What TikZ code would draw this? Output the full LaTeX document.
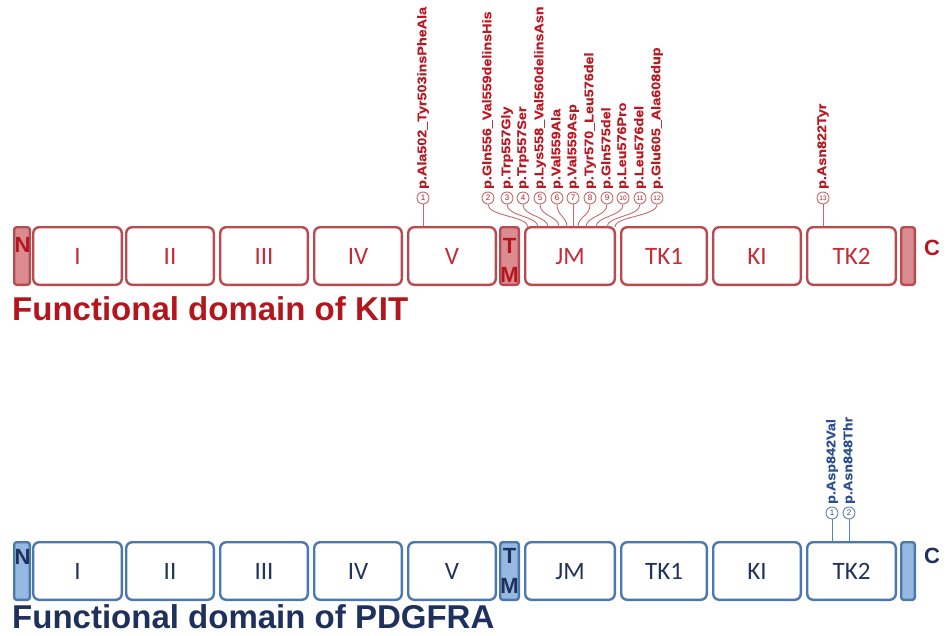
\documentclass[tikz,border=0pt]{standalone}
\usepackage{fontspec}
\setmainfont{Liberation Sans}
\newfontfamily\carl{Carlito}
\newfontfamily\labf{Liberation Sans}[UprightFont=*-Bold, FakeStretch=1.15, FakeBold=0.6]
\usetikzlibrary{calc}
\definecolor{kitStroke}{RGB}{185,75,80}
\definecolor{kitFill}{RGB}{218,140,145}
\definecolor{kitText}{RGB}{195,45,55}
\definecolor{kitHead}{RGB}{180,22,30}
\definecolor{kitLab}{RGB}{185,25,35}
\definecolor{kitCon}{RGB}{200,105,110}
\definecolor{pdStroke}{RGB}{75,120,175}
\definecolor{pdFill}{RGB}{150,185,225}
\definecolor{pdText}{RGB}{35,50,90}
\definecolor{pdHead}{RGB}{30,48,92}
\definecolor{pdLab}{RGB}{45,80,140}
\definecolor{pdCon}{RGB}{95,130,180}
\begin{document}
\begin{tikzpicture}[x=1pt,y=-1pt,
  dom/.style={draw, line width=2.4pt, rounded corners=6pt, fill=white, inner sep=0pt,
    minimum height=57.6pt, text depth=0pt, font=\carl\fontsize{25}{25}\selectfont},
  termbox/.style={draw, line width=2.4pt, rounded corners=2.5pt, inner sep=0pt, minimum height=57.6pt},
  kdom/.style={dom, draw=kitStroke, text=kitText},
  pdom/.style={dom, draw=pdStroke, text=pdText},
  kterm/.style={termbox, draw=kitStroke, fill=kitFill},
  pterm/.style={termbox, draw=pdStroke, fill=pdFill},
  letter/.style={inner sep=0pt, anchor=base, font=\bfseries\fontsize{22}{22}\selectfont},
  kletter/.style={letter, text=kitHead},
  pletter/.style={letter, text=pdHead},
  headline/.style={inner sep=0pt, anchor=base west, font=\bfseries\fontsize{33}{33}\selectfont},
  mcirc/.style={circle, line width=0.9pt, fill=white, minimum size=12pt, inner sep=0pt,
    font=\fontsize{8}{8}\selectfont},
  kcirc/.style={mcirc, draw=kitCon, text=kitLab},
  pcirc/.style={mcirc, draw=pdCon, text=pdLab},
  mlab/.style={inner sep=0pt, rotate=90, anchor=west, font=\labf\fontsize{12.5}{12.5}\selectfont},
  klab/.style={mlab, text=kitLab},
  plab/.style={mlab, text=pdLab},
  kcon/.style={draw=kitCon, line width=0.9pt},
  pcon/.style={draw=pdCon, line width=0.9pt}
]
\useasboundingbox (0,0) rectangle (947,635);

% ---------------- domain boxes ----------------
\foreach \n/\cx/\w/\t in {I/77.5/88.6pt/I, II/170/87.6pt/II, III/264/87.6pt/III, IV/358/87.6pt/IV,
  V/452/87.6pt/V, JM/570/89.6pt/JM, TKa/664/85.6pt/TK1, KI/757/87.6pt/KI, TKb/851.5/88.6pt/TK2}{
  \node[kdom, minimum width=\w] (k\n) at (\cx,256) {\t};
  \node[pdom, minimum width=\w] (p\n) at (\cx,571) {\t};
}
% terminal / TM boxes
\node[kterm, minimum width=15.6pt] (kN) at (22,256) {};
\node[kterm, minimum width=18.6pt] (kTM) at (509.5,256) {};
\node[kterm, minimum width=13.6pt] (kC) at (908,256) {};
\node[pterm, minimum width=15.6pt] (pN) at (22,571) {};
\node[pterm, minimum width=18.6pt] (pTM) at (509.5,571) {};
\node[pterm, minimum width=13.6pt] (pC) at (908,571) {};

% letters
\node[kletter] (kNl) at (22.5,252) {N};
\node[kletter] (kTl) at (509.5,253) {T};
\node[kletter] (kMl) at (509.5,282) {M};
\node[kletter] (kCl) at (932,255) {C};
\node[pletter] (pNl) at (22.5,564) {N};
\node[pletter] (pTl) at (509.5,563) {T};
\node[pletter] (pMl) at (509.5,593) {M};
\node[pletter] (pCl) at (932,563) {C};

% titles
\node[headline, text=kitHead] (kTitle) at (12,320) {Functional domain of KIT};
\node[headline, text=pdHead] (pTitle) at (12,628) {Functional domain of PDGFRA};

% ---------------- KIT mutations ----------------
\node[kcirc] (kc1) at (423,198) {1};
\draw[kcon] (kc1.south) -- (kc1 |- kV.north);
\node[klab] (kl1) at ($(kc1.north)+(0,-2.5)$) {p.Ala502\_Tyr503insPheAla};

\foreach \i/\x/\ex/\lab in {
  2/488/528/p.Gln556\_Val559delinsHis,
  3/507/538/p.Trp557Gly,
  4/523/548/p.Trp557Ser,
  5/540/559/p.Lys558\_Val560delinsAsn,
  6/557/567/p.Val559Ala,
  7/573/573/p.Val559Asp,
  8/590/578/p.Tyr570\_Leu576del,
  9/607/586/p.Gln575del,
  10/623/596/p.Leu576Pro,
  11/640/607/p.Leu576del,
  12/657/615/p.Glu605\_Ala608dup}{
  \node[kcirc] (kc\i) at (\x,198) {\ifnum\i>9\fontsize{6.5}{6.5}\selectfont\fi\i};
  \coordinate (ke\i) at (\ex,227);
  \draw[kcon] (kc\i.south) .. controls +(0,12) and +(0,-11) .. (ke\i);
  \node[klab] (kl\i) at ($(kc\i.north)+(0,-2.5)$) {\lab};
}

\node[kcirc] (kc13) at (823,198) {\fontsize{6.5}{6.5}\selectfont 13};
\draw[kcon] (kc13.south) -- (kc13 |- kTKb.north);
\node[klab] (kl13) at ($(kc13.north)+(0,-2.5)$) {p.Asn822Tyr};

% ---------------- PDGFRA mutations ----------------
\node[pcirc] (pc1) at (832,513) {1};
\draw[pcon] (pc1.south) -- (pc1 |- pTKb.north);
\node[plab] (pl1) at ($(pc1.north)+(0,-2.5)$) {p.Asp842Val};
\node[pcirc] (pc2) at (849,513) {2};
\draw[pcon] (pc2.south) -- (pc2 |- pTKb.north);
\node[plab] (pl2) at ($(pc2.north)+(0,-2.5)$) {p.Asn848Thr};
\end{tikzpicture}
\end{document}
